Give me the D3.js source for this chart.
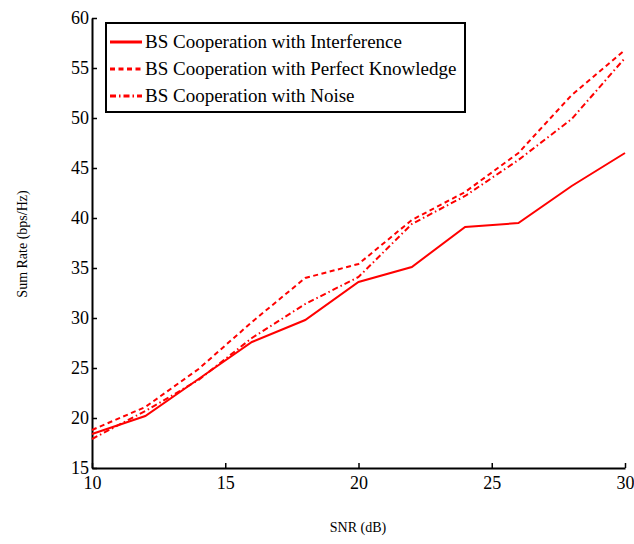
<!DOCTYPE html>
<html>
<head>
<meta charset="utf-8">
<script src="https://cdn.jsdelivr.net/npm/d3@7"></script>
<style>
  body { margin: 0; background: #fff; }
  svg { display: block; }
</style>
</head>
<body>
<svg width="634" height="544"></svg>
<script>
// SNR values (dB)
const snr = [10, 12, 14, 16, 18, 20, 22, 24, 26, 28, 30];
// sum rate (bps/Hz) for each scheme
const interference = [18.4, 20.2, 23.9, 27.6, 29.8, 33.6, 35.1, 39.1, 39.5, 43.2, 46.5];
const perfectKnowledge = [18.8, 21.1, 24.9, 29.6, 34.0, 35.4, 39.8, 42.6, 46.5, 52.3, 56.8];
const noise = [17.9, 20.7, 23.8, 28.0, 31.4, 34.1, 39.4, 42.2, 45.8, 49.9, 56.0];

const seriesNames = [
  "BS Cooperation with Interference",
  "BS Cooperation with Perfect Knowledge",
  "BS Cooperation with Noise"
];
const xTicks = [10, 15, 20, 25, 30];
const yTicks = [15, 20, 25, 30, 35, 40, 45, 50, 55, 60];

const serif = "'Liberation Serif', 'Times New Roman', serif";
const dashes = ["none", "5,3.5", "6,3,1.5,3"];

let svg = d3.select("svg");

// scales
let x = d3.scaleLinear().domain([10, 30]).range([92, 625]);
let y = d3.scaleLinear().domain([15, 60]).range([468, 18]);

// axes with inward ticks
let xAxis = svg.append("g")
  .attr("transform", "translate(0,468)")
  .call(d3.axisBottom(x).tickValues(xTicks).tickSizeInner(-5).tickSizeOuter(0).tickPadding(8));
let yAxis = svg.append("g")
  .attr("transform", "translate(92,0)")
  .call(d3.axisLeft(y).tickValues(yTicks).tickSizeInner(-5).tickSizeOuter(0).tickPadding(3));

[xAxis, yAxis].forEach((a) => {
  a.attr("font-family", serif).attr("font-size", 18);
  a.select(".domain").attr("stroke", "#000").attr("stroke-width", 2);
  a.selectAll(".tick line").attr("stroke", "#000").attr("stroke-width", 1.5);
  a.selectAll(".tick text").attr("fill", "#000");
});

// axis titles
svg.append("text")
  .attr("x", 358)
  .attr("y", 532)
  .attr("text-anchor", "middle")
  .attr("font-family", serif)
  .attr("font-size", 14)
  .text("SNR (dB)");

svg.append("text")
  .attr("transform", "translate(27,244) rotate(-90)")
  .attr("text-anchor", "middle")
  .attr("font-family", serif)
  .attr("font-size", 14)
  .text("Sum Rate (bps/Hz)");

// lines
let line = d3.line()
  .x((d, i) => x(snr[i]))
  .y((d) => y(d));

let plot = svg.append("g");
[interference, perfectKnowledge, noise].forEach((values, k) => {
  plot.append("path")
    .datum(values)
    .attr("d", line)
    .attr("fill", "none")
    .attr("stroke", "#ff0000")
    .attr("stroke-width", 2)
    .attr("stroke-dasharray", dashes[k]);
});

// legend
let legend = svg.append("g");
legend.append("rect")
  .attr("x", 106)
  .attr("y", 23)
  .attr("width", 359)
  .attr("height", 89)
  .attr("fill", "#fff")
  .attr("stroke", "#000")
  .attr("stroke-width", 2);

seriesNames.forEach((name, k) => {
  let ly = 42 + k * 27;
  legend.append("line")
    .attr("x1", 110)
    .attr("x2", 142)
    .attr("y1", ly)
    .attr("y2", ly)
    .attr("stroke", "#ff0000")
    .attr("stroke-width", 3)
    .attr("stroke-dasharray", dashes[k]);
  legend.append("text")
    .attr("x", 145)
    .attr("y", ly + 6)
    .attr("font-family", serif)
    .attr("font-size", 19)
    .text(name);
});
</script>
</body>
</html>
